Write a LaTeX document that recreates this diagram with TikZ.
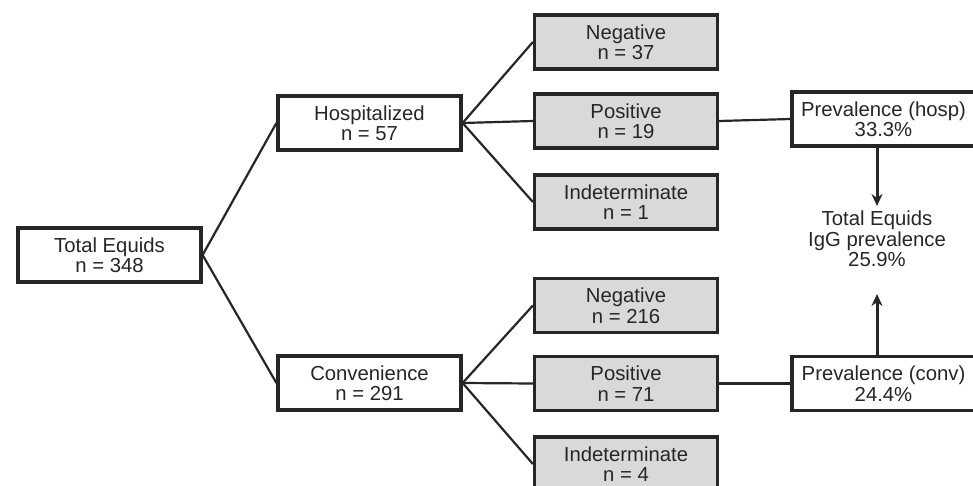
\documentclass[tikz,border=0pt]{standalone}
\usepackage{fontspec}
\setmainfont{Liberation Sans}
\usetikzlibrary{arrows.meta}
\begin{document}
\begin{tikzpicture}[x=1pt,y=-1pt,
  box/.style={draw=black!85, line width=3.2pt, minimum width=183pt, minimum height=54pt, inner sep=0pt, align=center, fill=white, text=black!85, font=\fontsize{20.3}{20.5}\selectfont},
  gbox/.style={box, fill=black!15},
  conn/.style={draw=black!85, line width=2.2pt},
  arr/.style={draw=black!85, line width=3pt, -{Stealth[length=12pt,width=11pt]}}]
\useasboundingbox (0,0) rectangle (973,486);
\node[box] (te) at (109.5,255) {Total Equids\\n = 348};
\node[box] (hosp) at (369.5,123) {Hospitalized\\n = 57};
\node[box] (conv) at (369.5,383) {Convenience\\n = 291};
\node[gbox] (neg1) at (626,42) {Negative\\n = 37};
\node[gbox] (pos1) at (626,121) {Positive\\n = 19};
\node[gbox] (ind1) at (626,202) {Indeterminate\\n = 1};
\node[gbox] (neg2) at (626,305.5) {Negative\\n = 216};
\node[gbox] (pos2) at (626,383.5) {Positive\\n = 71};
\node[gbox] (ind2) at (626,464) {Indeterminate\\n = 4};
\node[box] (prevh) at (883.5,119) {Prevalence (hosp)\\33.3\%};
\node[box] (prevc) at (883.5,383.5) {Prevalence (conv)\\24.4\%};
\node[align=center, inner sep=0pt, text=black!85, font=\fontsize{20.3}{20.5}\selectfont] (tot) at (877,239) {Total Equids\\IgG prevalence\\25.9\%};
\draw[conn] (te.east) -- (hosp.west);
\draw[conn] (te.east) -- (conv.west);
\draw[conn] (hosp.east) -- (neg1.west);
\draw[conn] (hosp.east) -- (pos1.west);
\draw[conn] (hosp.east) -- (ind1.west);
\draw[conn] (conv.east) -- (neg2.west);
\draw[conn] (conv.east) -- (pos2.west);
\draw[conn] (conv.east) -- (ind2.west);
\draw[conn] (pos1.east) -- (prevh.west);
\draw[conn] (pos2.east) -- (prevc.west);
\coordinate (ah) at (877,206);
\coordinate (ac) at (877,294);
\draw[arr] (prevh.south -| ah) -- (ah);
\draw[arr] (prevc.north -| ac) -- (ac);
\end{tikzpicture}
\end{document}
